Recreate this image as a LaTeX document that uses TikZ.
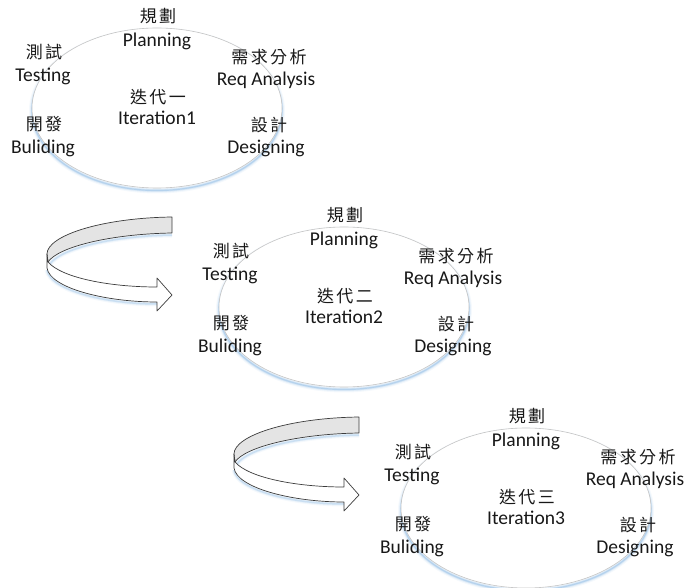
\documentclass[tikz,border=0pt]{standalone}
\usepackage{fontspec}
\setmainfont{Carlito}
\newfontfamily\cjkfont[LetterSpace=14]{Noto Sans CJK TC}
\usetikzlibrary{shapes.geometric}

\definecolor{txt}{HTML}{181818}
\definecolor{rim}{HTML}{C4C4C4}
\definecolor{glow}{HTML}{76ACDE}
\definecolor{bandgray}{HTML}{E4E4E4}
\definecolor{edge}{HTML}{3C3C3C}

\tikzset{
  lat/.style={font=\fontsize{19.5}{20}\selectfont, text=txt, inner sep=0pt},
  han/.style={font=\cjkfont\fontsize{17}{18}\selectfont, text=txt, inner sep=0pt},
  ring/.style={ellipse, minimum width=250pt, minimum height=160pt, inner sep=0pt},
  ribbon/.style={draw=edge, line width=0.7pt, line join=round},
}

% one iteration: ellipse with six labels; #1,#2 centre, #3 numeral, #4 suffix
\newcommand\iterblock[4]{
  \foreach \w/\o in {6/0.07, 4/0.11, 2.5/0.18, 1.2/0.32}
    \node[ring, draw=glow, line width=\w pt, opacity=\o] at (#1,#2+2.5) {};
  \node[ring, fill=white, draw=rim, line width=0.6pt] (ring#4) at (#1,#2) {};
  \node[han] (planzh#4) at (#1+1,#2-92) {規劃};
  \node[lat] (plan#4)   at (#1,#2-67) {Planning};
  \node[han] (testzh#4) at (#1-113,#2-56) {測試};
  \node[lat] (test#4)   at (#1-114,#2-32) {Testing};
  \node[han] (reqzh#4)  at (#1+112,#2-51) {需求分析};
  \node[lat] (req#4)    at (#1+109,#2-28) {Req Analysis};
  \node[han] (iterzh#4) at (#1+1,#2-11) {迭代#3};
  \node[lat] (iter#4)   at (#1,#2+10) {Iteration#4};
  \node[han] (buildzh#4) at (#1-113,#2+16) {開發};
  \node[lat] (build#4)  at (#1-114,#2+40) {Buliding};
  \node[han] (designzh#4) at (#1+112,#2+17) {設計};
  \node[lat] (design#4) at (#1+109,#2+40) {Designing};
}

% curved ribbon arrow leading to the next iteration
\newcommand\turnarrow[2]{
  \begin{scope}[shift={(#1,#2)}]
    \foreach \w/\o in {5/0.07, 3/0.12, 1.5/0.25}{
      \draw[glow, line width=\w pt, opacity=\o]
        (47,270) .. controls (50,290) and (105,304) .. (157,304);
      \draw[glow, line width=\w pt, opacity=\o]
        (50,264) .. controls (60,249) and (110,236) .. (172,235);
    }
    \fill[bandgray] (172,217) .. controls (100,218) and (47,236) .. (47,254)
      -- (48,262) .. controls (58,247) and (110,234) .. (172,233) -- cycle;
    \draw[ribbon] (172,217) .. controls (100,218) and (47,236) .. (47,254)
      -- (48,262) .. controls (58,247) and (110,234) .. (172,233) -- cycle;
    \draw[ribbon, fill=white] (47,254) -- (47,268)
      .. controls (50,288) and (105,302) .. (157,302)
      -- (157,311) -- (172,295) -- (157,278) -- (157,287)
      .. controls (110,287) and (62,278) .. (48,262) -- cycle;
  \end{scope}
}

\begin{document}
\begin{tikzpicture}[x=1pt, y=-1pt]
  \useasboundingbox (0,0) rectangle (697,588);
  \iterblock{157}{108}{一}{1}
  \iterblock{344}{307}{二}{2}
  \iterblock{526}{508}{三}{3}
  \turnarrow{0}{0}
  \turnarrow{187}{200}
\end{tikzpicture}
\end{document}
